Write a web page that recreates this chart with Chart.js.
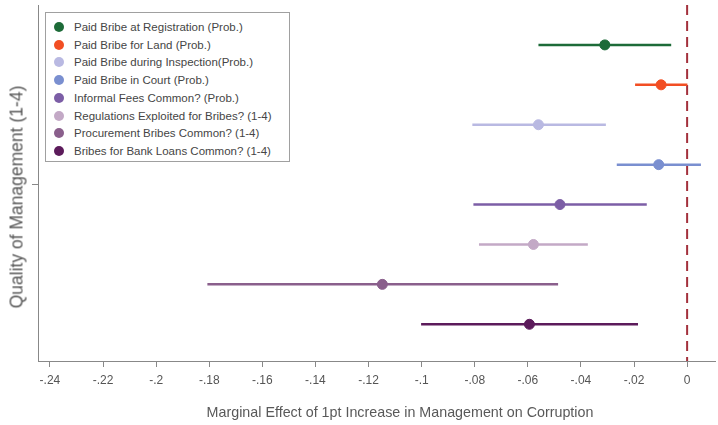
<!DOCTYPE html>
<html>
<head>
<meta charset="utf-8">
<script src="https://cdn.jsdelivr.net/npm/chart.js@4"></script>
<style>
  html, body { margin: 0; padding: 0; background: #fff; }
  #wrap { position: relative; width: 718px; height: 425px; }
  #legend {
    position: absolute; left: 45px; top: 12px; width: 245px; height: 150px;
    border: 1px solid #a0a0a0; background: #fff; box-sizing: border-box;
    font-family: "Liberation Sans", Arial, sans-serif; font-size: 11.5px; color: #454545;
  }
  .item { position: absolute; left: 0; height: 14px; line-height: 14px; white-space: nowrap; }
  .dot { position: absolute; left: 8px; top: 2px; width: 10px; height: 10px; border-radius: 50%; }
  .txt { position: absolute; left: 28px; top: 0; }
  .axtitle { position: absolute; font-family: "Liberation Sans", Arial, sans-serif; color: #595959; white-space: nowrap; }
  #xtitle { left: 400px; top: 412px; font-size: 14.3px; transform: translate(-50%, -50%); }
  #ytitle { left: 17px; top: 197px; font-size: 17.5px; transform: translate(-50%, -50%) rotate(-90deg); }
</style>
</head>
<body>
<div id="wrap">
  <canvas id="c" width="718" height="425"></canvas>
  <div id="legend"></div>
  <div class="axtitle" id="xtitle"></div>
  <div class="axtitle" id="ytitle"></div>
</div>
<script>
const labels = [
  "Paid Bribe at Registration (Prob.)",
  "Paid Bribe for Land (Prob.)",
  "Paid Bribe during Inspection(Prob.)",
  "Paid Bribe in Court (Prob.)",
  "Informal Fees Common? (Prob.)",
  "Regulations Exploited for Bribes? (1-4)",
  "Procurement Bribes Common? (1-4)",
  "Bribes for Bank Loans Common? (1-4)"
];
const estimates = [-0.031, -0.0098, -0.056, -0.0107, -0.0479, -0.0579, -0.1148, -0.0594];
const lower     = [-0.056, -0.0196, -0.0809, -0.0265, -0.0805, -0.0784, -0.1807, -0.1002];
const upper     = [-0.006, 0.0001, -0.0306, 0.0052, -0.0152, -0.0374, -0.0486, -0.0185];
const colors = ["#1d6b38", "#f24e23", "#b9b9e2", "#7a8fd0", "#7c5ea6", "#c3a9c6", "#8a5f8c", "#5c1b5b"];
const xTicks = [-0.24, -0.22, -0.2, -0.18, -0.16, -0.14, -0.12, -0.1, -0.08, -0.06, -0.04, -0.02, 0];
const xTitle = "Marginal Effect of 1pt Increase in Management on Corruption";
const yTitle = "Quality of Management (1-4)";

const n = labels.length;
const datasets = [];
labels.forEach((lab, i) => {
  const y = n - i;
  datasets.push({
    type: 'line', label: lab + ' CI',
    data: [{x: lower[i], y: y}, {x: upper[i], y: y}],
    borderColor: colors[i], borderWidth: 2.5, pointRadius: 0, showLine: true, order: 2
  });
  datasets.push({
    type: 'scatter', label: lab,
    data: [{x: estimates[i], y: y}],
    backgroundColor: colors[i], borderColor: colors[i], pointRadius: 5, order: 1
  });
});

const fmt = v => {
  if (Math.abs(v) < 1e-9) return '0';
  return '-' + parseFloat(Math.abs(v).toFixed(2)).toString().replace(/^0\./, '.');
};

const zeroLine = {
  id: 'zeroLine',
  beforeDatasetsDraw(chart) {
    const {ctx, chartArea, scales} = chart;
    const x = scales.x.getPixelForValue(0);
    ctx.save();
    ctx.strokeStyle = '#a3303c';
    ctx.lineWidth = 2;
    ctx.setLineDash([10, 6]);
    ctx.beginPath();
    ctx.moveTo(x, chartArea.top);
    ctx.lineTo(x, chartArea.bottom);
    ctx.stroke();
    ctx.restore();
  }
};

new Chart(document.getElementById('c'), {
  data: { datasets },
  plugins: [zeroLine],
  options: {
    responsive: false, animation: false,
    layout: { autoPadding: false, padding: { left: 0, right: 3, top: 5, bottom: 0 } },
    plugins: { legend: { display: false }, tooltip: { enabled: false } },
    scales: {
      x: {
        type: 'linear', min: -0.2445, max: 0.0105,
        afterBuildTicks: s => { s.ticks = xTicks.map(v => ({value: v})); },
        afterFit: s => { s.height = 64; s.paddingRight = 0; s.paddingLeft = 0; },
        ticks: { callback: v => fmt(v), color: '#555', font: { family: 'Liberation Sans', size: 12 }, padding: 6, maxRotation: 0, autoSkip: false },
        grid: { drawOnChartArea: false, drawTicks: true, tickLength: 6, color: '#888', tickColor: '#888' },
        border: { display: true, color: '#888', width: 1 }
      },
      y: {
        type: 'linear', min: 0.08, max: 9.0,
        afterBuildTicks: s => { s.ticks = [{value: (1 + n) / 2}]; },
        afterFit: s => { s.width = 38; s.paddingTop = 0; s.paddingBottom = 0; },
        ticks: { callback: () => '', padding: 0 },
        grid: { drawOnChartArea: false, drawTicks: true, tickLength: 6, color: '#888', tickColor: '#888' },
        border: { display: true, color: '#888', width: 1 }
      }
    }
  }
});

document.getElementById('xtitle').textContent = xTitle;
document.getElementById('ytitle').textContent = yTitle;

const leg = document.getElementById('legend');
labels.forEach((lab, i) => {
  const d = document.createElement('div');
  d.className = 'item';
  d.style.top = (7 + i * 17.7) + 'px';
  d.style.width = '100%';
  d.innerHTML = '<span class="dot" style="background:' + colors[i] + '"></span><span class="txt"></span>';
  d.querySelector('.txt').textContent = lab;
  leg.appendChild(d);
});
</script>
</body>
</html>
